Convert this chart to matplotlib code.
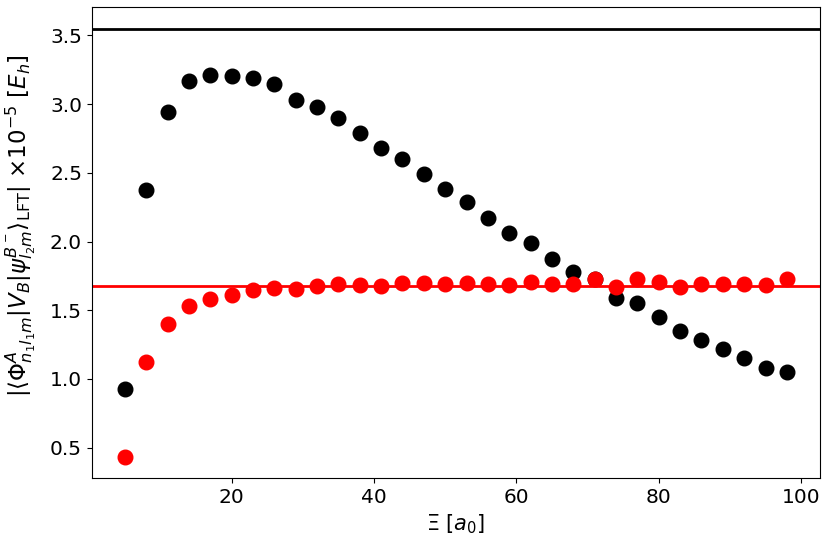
import numpy as np
import matplotlib
matplotlib.use('Agg')
import matplotlib.pyplot as plt

# separation values Xi [a0]
xi = [5, 8, 11, 14, 17, 20, 23, 26, 29, 32, 35, 38, 41, 44, 47, 50,
      53, 56, 59, 62, 65, 68, 71, 74, 77, 80, 83, 86, 89, 92, 95, 98]

# black points
black_vals = [0.929, 2.373, 2.940, 3.165, 3.209, 3.202, 3.189, 3.143, 3.031, 2.978,
              2.898, 2.790, 2.677, 2.597, 2.491, 2.381, 2.289, 2.168, 2.063, 1.991,
              1.871, 1.780, 1.725, 1.591, 1.555, 1.453, 1.348, 1.286, 1.219, 1.151,
              1.079, 1.047]

# red points
red_vals = [0.435, 1.120, 1.403, 1.529, 1.583, 1.614, 1.648, 1.665, 1.655, 1.679,
            1.691, 1.686, 1.679, 1.696, 1.696, 1.693, 1.700, 1.691, 1.684, 1.704,
            1.689, 1.689, 1.725, 1.667, 1.729, 1.707, 1.667, 1.689, 1.693, 1.691,
            1.682, 1.730]

black_level = 3.55
red_level = 1.677

fig, ax = plt.subplots(figsize=(8.27, 5.5), dpi=100)
fig.subplots_adjust(left=0.111, right=0.9915, top=0.987, bottom=0.131)

ax.plot(xi, black_vals, 'o', color='black', ms=10.5)
ax.plot(xi, red_vals, 'o', color='red', ms=10.5)
ax.axhline(black_level, color='black', lw=2)
ax.axhline(red_level, color='red', lw=2)

ax.set_xlabel(r'$\Xi$ [$a_0$]', fontsize=15)
ax.set_ylabel(r'$|\langle\Phi^A_{n_1l_1m}|V_B|\psi^{B^-}_{l_2m}\rangle_{\rm LFT}|$ $\times 10^{-5}$ [$E_h$]',
              fontsize=16.5)
ax.yaxis.set_label_coords(-0.074, 0.535)
ax.tick_params(labelsize=14.5)

fig.savefig('out.png')
